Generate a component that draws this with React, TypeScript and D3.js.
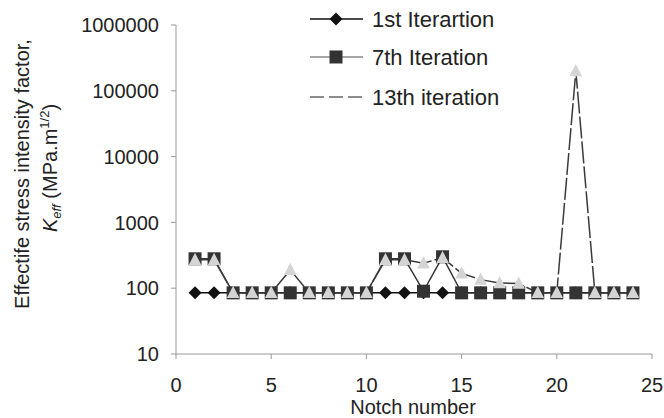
import React from "react";
import * as d3 from "d3";

const notches = d3.range(1, 25);
const iter1 = [85, 85, 85, 85, 85, 85, 85, 85, 85, 85, 85, 85, 85, 85, 85, 85, 85, 85, 85, 85, 85, 85, 85, 85];
const iter7 = [280, 280, 85, 85, 85, 85, 85, 85, 85, 85, 280, 280, 90, 300, 85, 85, 85, 85, 85, 85, 85, 85, 85, 85];
const iter13 = [270, 270, 85, 85, 85, 190, 85, 85, 85, 85, 270, 270, 240, 290, 168, 135, 120, 118, 85, 85, 200000, 85, 85, 85];
const xTicks = [0, 5, 10, 15, 20, 25];
const yTicks = [10, 100, 1000, 10000, 100000, 1000000];
const legendNames = ["1st Iterartion", "7th Iteration", "13th iteration"];

const W = 664;
const H = 418;
const M = { top: 25, right: 12, bottom: 64, left: 176 };
const FONT = "Liberation Sans, Arial, sans-serif";

const App = () => {
  const x = d3.scaleLinear().domain([0, 25]).range([M.left, W - M.right]);
  const y = d3.scaleLog().domain([10, 1000000]).range([H - M.bottom, M.top]);

  const line = d3
    .line<number>()
    .x((_, i) => x(notches[i]))
    .y((d) => y(d));

  const diamond = (cx: number, cy: number, r = 6.5) =>
    `M${cx},${cy - r}L${cx + r},${cy}L${cx},${cy + r}L${cx - r},${cy}Z`;
  const square = (cx: number, cy: number, r = 6.5) =>
    `M${cx - r},${cy - r}h${2 * r}v${2 * r}h${-2 * r}Z`;
  const tri = (cx: number, cy: number, r = 7) =>
    `M${cx},${cy - r}L${cx + r * 0.9},${cy + r * 0.75}L${cx - r * 0.9},${cy + r * 0.75}Z`;

  const legY = [19, 57, 97];

  return (
    <div style={{ position: "absolute", left: 0, top: 0 }}>
      <svg width={W} height={H} style={{ display: "block", background: "#fff" }}>
        {/* axes */}
        <line x1={M.left} x2={M.left} y1={y(1000000)} y2={y(10)} stroke="#999" strokeWidth={1} />
        <line x1={M.left} x2={x(25)} y1={y(10)} y2={y(10)} stroke="#999" strokeWidth={1} />
        {yTicks.map((t) => (
          <g key={t}>
            <line x1={M.left - 5} x2={M.left} y1={y(t)} y2={y(t)} stroke="#999" />
            <text x={M.left - 17} y={y(t)} dy="0.36em" textAnchor="end" fontFamily={FONT} fontSize={20} fill="#222">
              {t}
            </text>
          </g>
        ))}
        {xTicks.map((t) => (
          <g key={t}>
            <line x1={x(t)} x2={x(t)} y1={y(10)} y2={y(10) + 5} stroke="#999" />
            <text x={x(t)} y={y(10) + 38} textAnchor="middle" fontFamily={FONT} fontSize={20} fill="#222">
              {t}
            </text>
          </g>
        ))}
        <text x={413} y={414} textAnchor="middle" fontFamily={FONT} fontSize={20} fill="#222">
          Notch number
        </text>
        <text transform="translate(29,174) rotate(-90)" textAnchor="middle" fontFamily={FONT} fontSize={20} fill="#222">
          Effectife stress intensity factor,
        </text>
        <text transform="translate(57,168) rotate(-90)" textAnchor="middle" fontFamily={FONT} fontSize={20} fill="#222">
          <tspan fontStyle="italic">K</tspan>
          <tspan fontStyle="italic" fontSize={13} dy={4}>eff</tspan>
          <tspan dy={-4}> (MPa.m</tspan>
          <tspan fontSize={13} dy={-8}>1/2</tspan>
          <tspan dy={8}>)</tspan>
        </text>

        {/* series lines */}
        <path d={line(iter1) || ""} fill="none" stroke="#111" strokeWidth={1.5} />
        <path d={line(iter7) || ""} fill="none" stroke="#333" strokeWidth={1.4} />
        <path d={line(iter13) || ""} fill="none" stroke="#3a3a3a" strokeWidth={1.5} strokeDasharray="22,3" />

        {/* markers */}
        {iter1.map((v, i) => (
          <path key={"a" + i} d={diamond(x(notches[i]), y(v))} fill="#111" />
        ))}
        {iter7.map((v, i) => (
          <path key={"b" + i} d={square(x(notches[i]), y(v))} fill="#333" />
        ))}
        {iter13.map((v, i) => (
          <path key={"c" + i} d={tri(x(notches[i]), y(v))} fill="#d4d4d4" />
        ))}

        {/* legend */}
        <g>
          <line x1={310} x2={363} y1={legY[0]} y2={legY[0]} stroke="#111" strokeWidth={1.5} />
          <path d={diamond(336, legY[0], 6.5)} fill="#111" />
          <line x1={310} x2={363} y1={legY[1]} y2={legY[1]} stroke="#888" strokeWidth={1.3} />
          <path d={square(336, legY[1], 6.5)} fill="#333" />
          <line x1={310} x2={363} y1={legY[2]} y2={legY[2]} stroke="#666" strokeWidth={1.4} strokeDasharray="14,5" />
          {legendNames.map((n, i) => (
            <text key={n} x={372} y={legY[i]} dy="0.36em" fontFamily={FONT} fontSize={22} fill="#222">
              {n}
            </text>
          ))}
        </g>
      </svg>
    </div>
  );
};

export default App;
